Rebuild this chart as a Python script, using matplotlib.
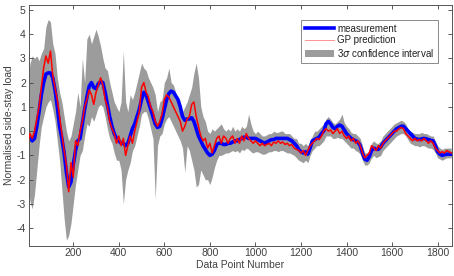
import numpy as np
import matplotlib
matplotlib.use("Agg")
import matplotlib.pyplot as plt

plt.rcParams['font.family'] = ['Liberation Sans', 'DejaVu Sans']
plt.rcParams['axes.unicode_minus'] = False

# sample index (every 10th data point)
x = np.arange(0, 1870, 10)

measurement = [
    -0.3, -0.3, -0.4, -0.3, 0.2, 0.8, 1.5, 2.0, 2.35, 2.4,
    2.4, 2.2, 1.7, 1.0, 0.2, -0.3, -0.9, -1.7, -2.3, -2.1,
    -1.4, -0.8, -0.4, -0.3, 0.3, 0.9, 1.4, 1.85, 2.0, 1.8,
    1.75, 1.95, 2.05, 2.0, 1.6, 1.1, 0.6, 0.2, -0.1, -0.3,
    -0.4, -0.5, -0.5, -0.6, -0.5, -0.2, 0.1, 0.3, 0.6, 0.9,
    1.3, 1.6, 1.5, 1.2, 0.9, 0.6, 0.3, 0.15, 0.2, 0.5,
    0.9, 1.3, 1.55, 1.65, 1.6, 1.45, 1.3, 1.0, 0.6, 0.45,
    0.5, 0.5, 0.55, 0.4, 0.1, -0.2, -0.4, -0.6, -0.75, -0.9,
    -1.0, -0.95, -0.8, -0.55, -0.5, -0.5, -0.55, -0.55, -0.5, -0.5,
    -0.45, -0.4, -0.4, -0.35, -0.3, -0.25, -0.25, -0.3, -0.3, -0.3,
    -0.3, -0.35, -0.4, -0.45, -0.5, -0.45, -0.4, -0.35, -0.35, -0.3,
    -0.3, -0.3, -0.3, -0.3, -0.3, -0.35, -0.4, -0.5, -0.6, -0.75,
    -0.85, -0.9, -0.85, -0.95, -0.7, -0.4, -0.35, -0.3, -0.25, -0.1,
    0.0, 0.3, 0.4, 0.3, 0.15, 0.1, 0.2, 0.25, 0.2, 0.05,
    -0.1, -0.2, -0.3, -0.35, -0.4, -0.45, -0.6, -0.9, -1.15, -1.2,
    -1.05, -0.8, -0.7, -0.75, -0.75, -0.65, -0.5, -0.4, -0.3, -0.2,
    -0.1, 0.0, 0.1, 0.15, 0.2, 0.2, 0.1, 0.0, -0.1, -0.2,
    -0.3, -0.33, -0.35, -0.32, -0.3, -0.32, -0.35, -0.38, -0.4, -0.6,
    -0.85, -0.95, -1.0, -0.97, -0.95, -0.95, -0.95,
]

gp_prediction = [
    -0.5, -0.1, -0.3, 0.0, 0.5, 1.0, 1.8, 2.6, 3.1, 2.8,
    3.3, 2.3, 1.8, 1.3, 0.6, -0.1, -0.8, -1.4, -2.5, -1.3,
    -1.9, -0.4, -0.6, 0.0, 0.4, 1.0, 1.3, 1.7, 1.5, 1.1,
    1.6, 1.9, 2.2, 1.9, 1.3, 1.0, 0.4, 0.1, -0.1, -0.5,
    -0.2, -0.6, -0.3, -1.0, -0.6, -0.2, -0.5, 0.0, 0.4, 0.8,
    1.8, 2.0, 1.6, 1.4, 1.0, 0.8, 0.4, 0.2, 0.4, 0.7,
    1.3, 1.5, 1.4, 1.2, 1.0, 0.8, 0.6, 0.4, 0.0, 0.2,
    0.5, 0.6, 1.1, 1.2, 0.6, 0.2, -0.2, -0.4, -0.3, -0.7,
    -0.5, -0.9, -0.6, -0.3, -0.2, -0.5, -0.2, -0.3, -0.5, -0.3,
    -0.2, -0.5, -0.3, -0.5, -0.2, -0.4, -0.1, -0.3, -0.4, -0.5,
    -0.4, -0.5, -0.6, -0.5, -0.6, -0.55, -0.5, -0.6, -0.45, -0.5,
    -0.4, -0.5, -0.45, -0.55, -0.5, -0.6, -0.55, -0.7, -0.75, -0.8,
    -0.9, -0.8, -1.0, -0.8, -0.6, -0.5, -0.4, -0.3, -0.35, -0.2,
    0.0, 0.1, 0.0, 0.05, -0.1, 0.0, 0.1, -0.1, 0.0, -0.2,
    -0.3, -0.2, -0.4, -0.3, -0.5, -0.4, -0.6, -0.9, -1.1, -1.0,
    -0.9, -0.6, -0.7, -0.8, -0.6, -0.7, -0.5, -0.4, -0.3, -0.2,
    -0.1, 0.0, 0.0, 0.1, 0.15, 0.1, -0.1, -0.2, -0.3, -0.4,
    -0.3, -0.4, -0.35, -0.4, -0.3, -0.4, -0.5, -0.4, -0.5, -0.7,
    -0.8, -0.9, -0.85, -0.9, -0.8, -0.85, -0.9,
]

ci_upper = [
    2.0, 2.8, 3.1, 3.0, 3.1, 2.9, 3.2, 3.4, 4.3, 4.6,
    4.5, 3.6, 3.2, 2.2, 1.6, 1.2, 0.6, 0.0, -0.4, -0.2,
    0.3, 0.8, 1.6, 1.0, 3.0, 2.0, 3.8, 4.0, 3.6, 3.9,
    4.2, 3.9, 3.5, 3.0, 2.6, 2.5, 2.0, 1.6, 1.2, 1.0,
    0.8, 1.2, 3.3, 1.2, 0.8, 1.5, 1.3, 1.6, 2.0, 2.4,
    2.8, 2.6, 2.5, 2.2, 2.0, 1.8, 1.5, 0.8, 1.2, 1.3,
    2.0, 2.2, 2.6, 2.0, 1.9, 1.6, 1.2, 1.0, 0.8, 1.0,
    1.2, 1.5, 1.8, 2.4, 2.8, 2.2, 1.0, 0.6, 0.4, 0.0,
    -0.1, 0.1, 0.0, 0.1, 0.2, 0.3, 0.1, 0.0, 0.1, 0.0,
    0.2, 0.0, 0.1, 0.0, 0.2, 0.1, 0.2, 0.7, 0.3, 0.0,
    -0.1, 0.0, -0.1, -0.2, -0.2, -0.15, -0.1, -0.1, 0.0, -0.05,
    -0.05, 0.0, 0.0, -0.1, -0.1, -0.1, -0.2, -0.3, -0.3, -0.5,
    -0.5, -0.6, -0.5, -0.6, -0.4, -0.2, 0.0, 0.0, 0.1, 0.2,
    0.3, 0.5, 0.6, 0.5, 0.35, 0.3, 0.4, 0.5, 0.7, 0.35,
    0.2, 0.1, -0.05, -0.1, -0.1, -0.2, -0.3, -0.6, -0.9, -0.9,
    -0.8, -0.5, -0.4, -0.5, -0.5, -0.4, -0.2, -0.1, 0.0, 0.1,
    0.2, 0.3, 0.35, 0.4, 0.45, 0.4, 0.3, 0.1, 0.0, -0.05,
    -0.1, -0.1, -0.1, -0.05, -0.1, -0.1, -0.15, -0.2, -0.2, -0.4,
    -0.6, -0.7, -0.75, -0.7, -0.7, -0.7, -0.7,
]

ci_lower = [
    -2.0, -2.9, -3.2, -2.6, -1.6, -0.6, 0.2, 0.6, 1.0, 1.2,
    1.3, 0.9, 0.4, -0.4, -1.2, -2.4, -3.6, -4.5, -4.3, -3.8,
    -3.0, -2.2, -1.6, -1.0, -0.8, -0.2, 0.3, 0.2, 0.6, 0.4,
    0.7, 1.0, 1.1, 1.0, 0.6, 0.1, -0.3, -0.5, -0.9, -1.2,
    -1.2, -1.6, -3.0, -2.0, -1.6, -1.3, -0.8, -0.6, -0.2, 0.2,
    0.7, 0.8, 0.8, 0.5, 0.1, -0.3, -2.8, -0.6, -0.2, -0.1,
    0.3, 0.5, 0.6, 0.4, 0.2, 0.0, -0.2, -0.4, -0.7, -1.7,
    -0.6, -0.8, -1.2, -1.6, -2.3, -2.2, -1.6, -1.8, -2.0, -2.0,
    -2.2, -1.9, -1.5, -1.2, -1.0, -1.0, -0.95, -0.9, -0.9, -0.85,
    -0.8, -0.85, -0.8, -0.9, -0.75, -0.8, -0.7, -0.75, -0.85, -0.9,
    -0.85, -0.85, -0.9, -0.95, -0.95, -0.9, -0.85, -0.85, -0.8, -0.8,
    -0.85, -0.8, -0.8, -0.85, -0.9, -0.9, -0.95, -1.0, -1.1, -1.2,
    -1.25, -1.3, -1.2, -1.3, -1.0, -0.8, -0.7, -0.6, -0.6, -0.5,
    -0.4, -0.2, -0.2, -0.2, -0.3, -0.3, -0.25, -0.3, -0.3, -0.4,
    -0.5, -0.6, -0.7, -0.7, -0.8, -0.85, -0.95, -1.2, -1.4, -1.4,
    -1.3, -1.1, -1.0, -1.1, -1.05, -1.0, -0.8, -0.7, -0.6, -0.5,
    -0.4, -0.3, -0.2, -0.15, -0.1, -0.1, -0.2, -0.35, -0.5, -0.55,
    -0.6, -0.6, -0.65, -0.6, -0.6, -0.65, -0.7, -0.7, -0.75, -0.9,
    -1.1, -1.15, -1.2, -1.15, -1.1, -1.1, -1.1,
]

x_ticks = [200, 400, 600, 800, 1000, 1200, 1400, 1600, 1800]
y_ticks = [-4, -3, -2, -1, 0, 1, 2, 3, 4, 5]

fig = plt.figure(figsize=(4.54, 2.76), dpi=100)
ax = fig.add_axes([0.063, 0.110, 0.933, 0.872])

ax.fill_between(x, ci_lower, ci_upper, color='#9c9c9c', linewidth=0,
                label=r'3$\sigma$ confidence interval', zorder=1)
ax.plot(x, gp_prediction, color='#ff0000', linewidth=1.1,
        label='GP prediction', zorder=3)
ax.plot(x, measurement, color='#0000ff', linewidth=2.6,
        label='measurement', zorder=2)

ax.set_xlim(4, 1864)
ax.set_ylim(-4.72, 5.2)
ax.set_xticks(x_ticks)
ax.set_yticks(y_ticks)

txtc = '#404040'
ax.tick_params(direction='in', top=True, right=True, length=3, width=0.6,
               labelsize=7.5, colors=txtc, pad=2)
for s in ax.spines.values():
    s.set_color('#555555')
    s.set_linewidth(0.7)

ax.set_xlabel('Data Point Number', fontsize=7.5, color=txtc, labelpad=1)
ax.set_ylabel('Normalised side-stay load', fontsize=7.5, color=txtc, labelpad=2)

h, l = ax.get_legend_handles_labels()
order = [2, 1, 0]
leg = ax.legend([h[i] for i in order], [l[i] for i in order],
                loc='upper right', fontsize=7, frameon=True, fancybox=False,
                edgecolor='#555555', borderpad=0.4, handlelength=3.0,
                handletextpad=0.3, labelspacing=0.15,
                bbox_to_anchor=(0.978, 0.958))
leg.get_frame().set_linewidth(0.6)
leg.get_lines()[1].set_linewidth(0.6)
leg.get_lines()[1].set_color('#ff8080')
for t in leg.get_texts():
    t.set_color('#222222')

fig.savefig('out.png', dpi=100)
